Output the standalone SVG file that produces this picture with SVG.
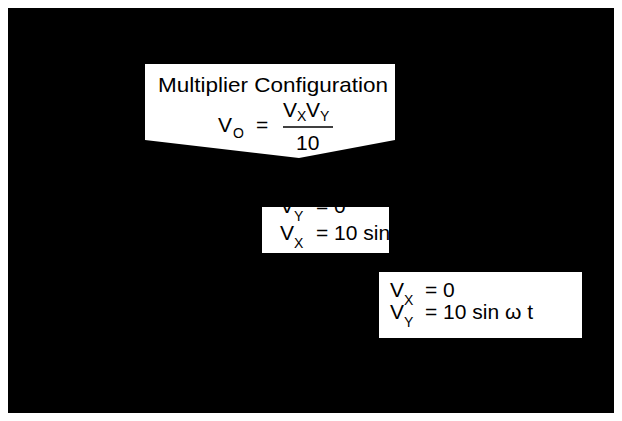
<svg xmlns="http://www.w3.org/2000/svg" width="622" height="421" viewBox="0 0 622 421">
  <style>
    text { font-family: "Liberation Sans", Arial, sans-serif; fill: #000; }
    .t { font-size: 21px; }
    .s { font-size: 14px; }
    .box { fill: #fff; stroke: none; }
  </style>
  <rect x="0" y="0" width="622" height="421" fill="#fff"/>
  <!-- dark backdrop -->
  <rect x="8" y="8" width="606" height="405" fill="#000"/>

  <!-- callout: multiplier configuration -->
  <g id="callout">
    <polygon class="box" points="145,64 395,64 395,140 299,158 145,140"/>
    <text class="t" x="158" y="92" textLength="230" lengthAdjust="spacingAndGlyphs">Multiplier Configuration</text>
    <text class="t" x="218" y="132">V</text>
    <text class="s" x="233" y="138">O</text>
    <text class="t" x="256" y="132">=</text>
    <line x1="283" y1="127" x2="333" y2="127" stroke="#000" stroke-width="1.3"/>
    <text class="t" x="283" y="117">V</text>
    <text class="s" x="297" y="121">X</text>
    <text class="t" x="306" y="117">V</text>
    <text class="s" x="320" y="121">Y</text>
    <text class="t" x="296" y="150">10</text>
  </g>

  <!-- label: first input condition -->
  <g id="label-a">
    <rect class="box" x="262" y="207" width="127" height="46"/>
    <text class="t" x="280" y="213">V</text>
    <text class="s" x="294" y="221">Y</text>
    <text class="t" x="316" y="213">= 0</text>
    <text class="t" x="280" y="240">V</text>
    <text class="s" x="294" y="248">X</text>
    <text class="t" x="316" y="240">= 10 sin ω t</text>
  </g>

  <!-- label: second input condition -->
  <g id="label-b">
    <rect class="box" x="379" y="272" width="203" height="66"/>
    <text class="t" x="390" y="297">V</text>
    <text class="s" x="404" y="305">X</text>
    <text class="t" x="425" y="297">= 0</text>
    <text class="t" x="390" y="319">V</text>
    <text class="s" x="404" y="327">Y</text>
    <text class="t" x="425" y="319">= 10 sin ω t</text>
  </g>
</svg>
